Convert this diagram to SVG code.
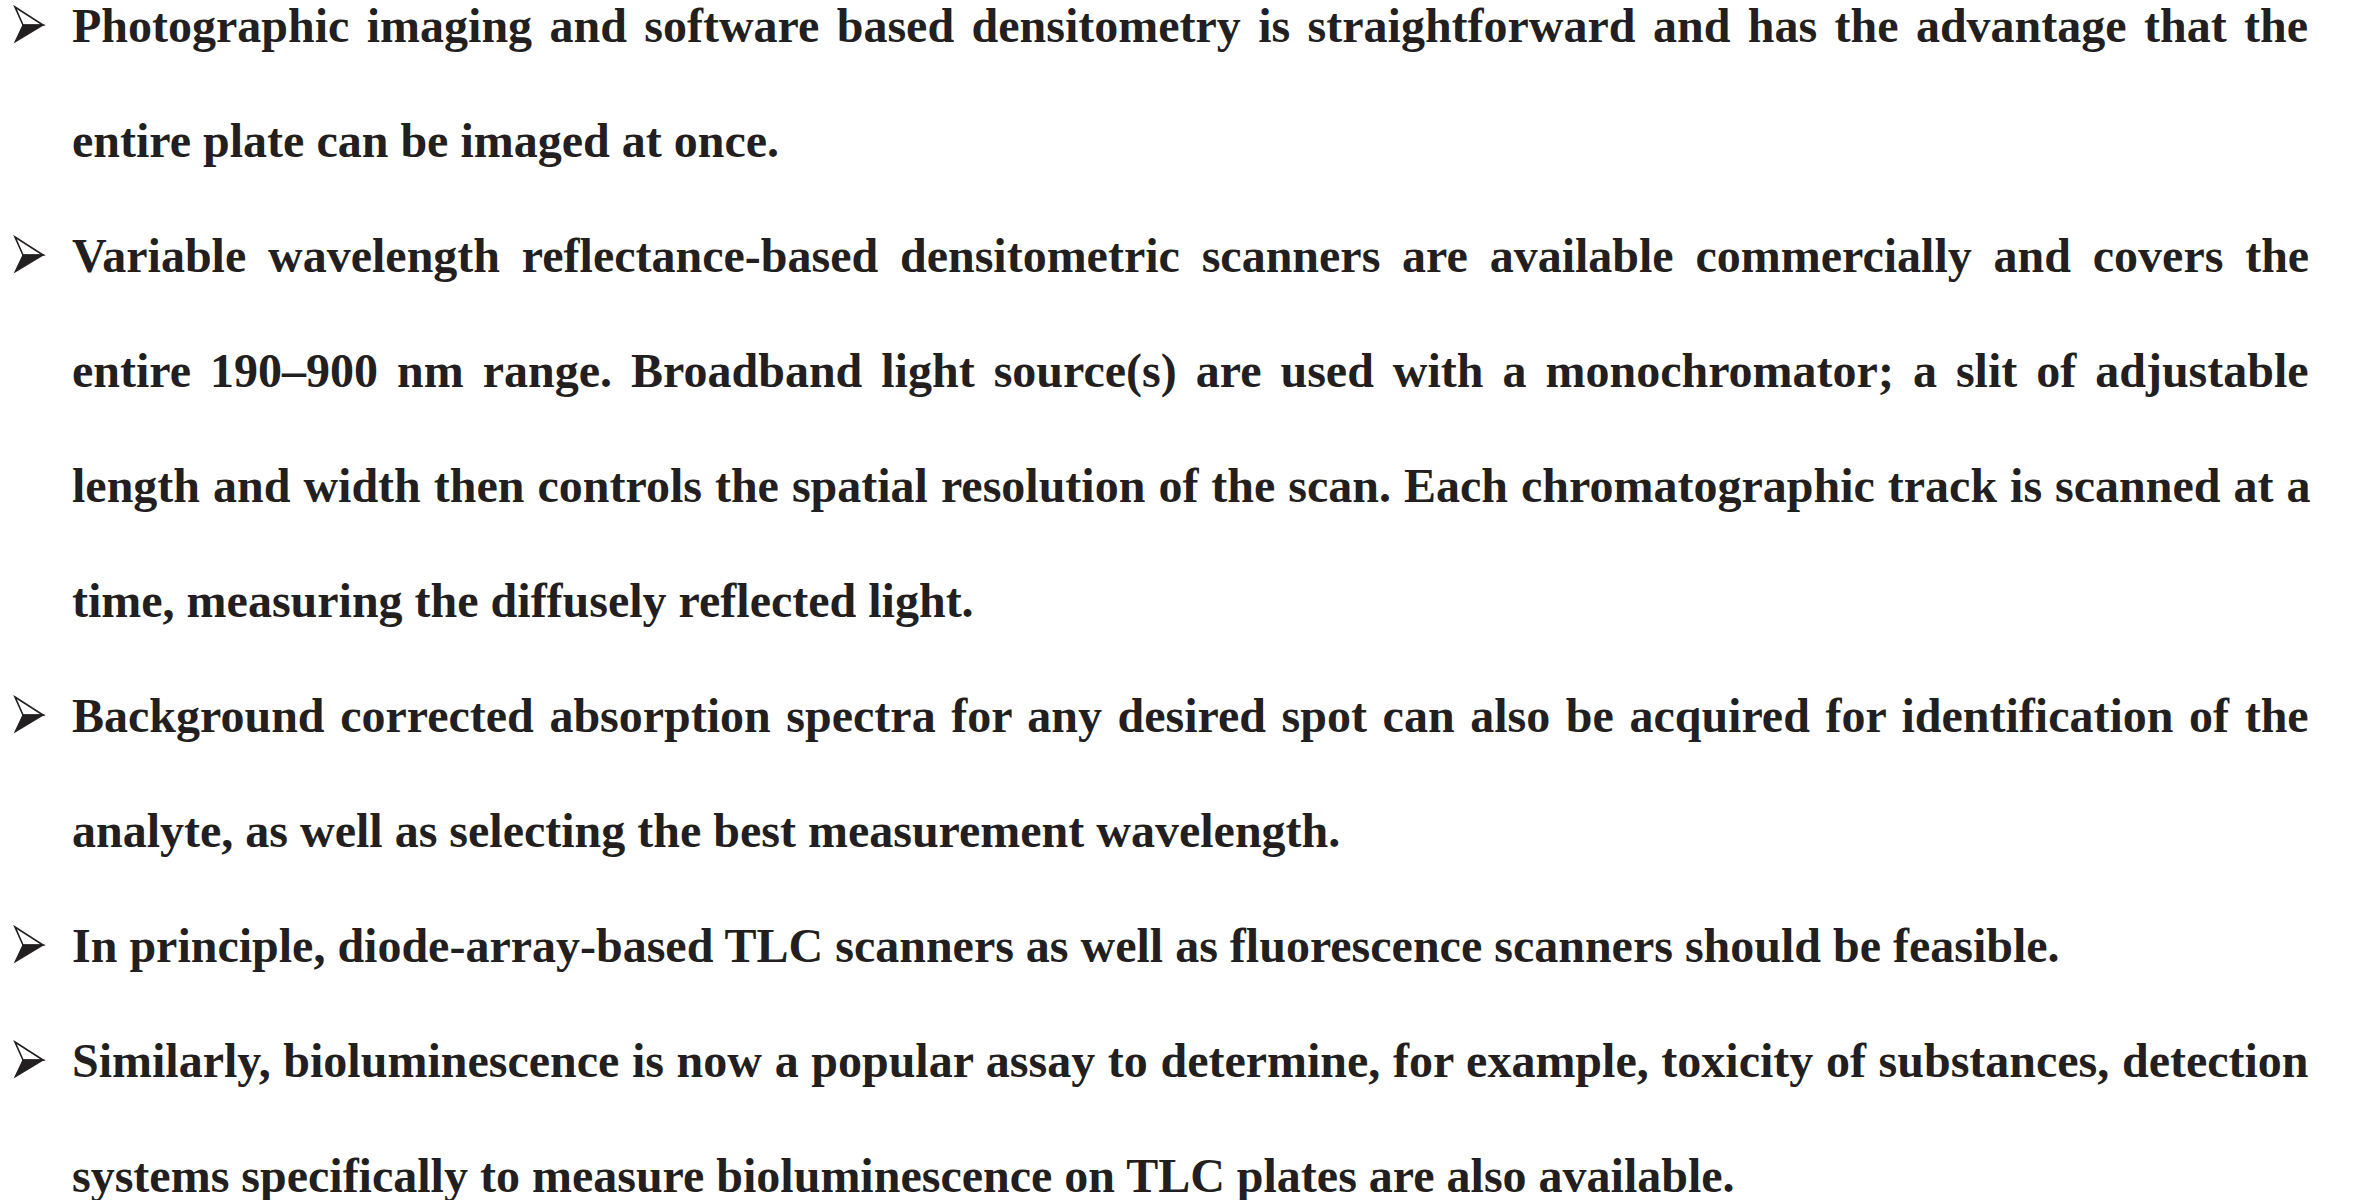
<svg xmlns="http://www.w3.org/2000/svg" width="2361" height="1200" viewBox="0 0 2361 1200">
<style>
.t{font-family:"Liberation Serif","Times New Roman",serif;font-weight:bold;font-size:48px;fill:#231f20}
</style>
<defs>
<g id="arrow">
<path d="M0,0 L28,18 L8,18 Z" fill="#ffffff" stroke="#231f20" stroke-width="1.6" stroke-linejoin="miter"/>
<path d="M8,18 L28,18 L0,35 Z" fill="#231f20" stroke="#231f20" stroke-width="1.2" stroke-linejoin="miter"/>
</g>
</defs>
<rect width="2361" height="1200" fill="#ffffff"/>
<g id="bullets">
<use href="#arrow" x="15" y="7"/>
<use href="#arrow" x="15" y="237"/>
<use href="#arrow" x="15" y="697"/>
<use href="#arrow" x="15" y="927"/>
<use href="#arrow" x="15" y="1042"/>
</g>
<g id="text">
<text class="t" x="72" y="42" word-spacing="5.4">Photographic imaging and software based densitometry is straightforward and has the advantage that the</text>
<text class="t" x="72" y="157">entire plate can be imaged at once.</text>
<text class="t" x="72" y="272" word-spacing="9.8">Variable wavelength reflectance-based densitometric scanners are available commercially and covers the</text>
<text class="t" x="72" y="387" word-spacing="7">entire 190–900 nm range. Broadband light source(s) are used with a monochromator; a slit of adjustable</text>
<text class="t" x="72" y="502" word-spacing="1">length and width then controls the spatial resolution of the scan. Each chromatographic track is scanned at a</text>
<text class="t" x="72" y="617">time, measuring the diffusely reflected light.</text>
<text class="t" x="72" y="732" word-spacing="3.6">Background corrected absorption spectra for any desired spot can also be acquired for identification of the</text>
<text class="t" x="72" y="847">analyte, as well as selecting the best measurement wavelength.</text>
<text class="t" x="72" y="962">In principle, diode-array-based TLC scanners as well as fluorescence scanners should be feasible.</text>
<text class="t" x="72" y="1077" word-spacing="0.65">Similarly, bioluminescence is now a popular assay to determine, for example, toxicity of substances, detection</text>
<text class="t" x="72" y="1192">systems specifically to measure bioluminescence on TLC plates are also available.</text>
</g>
</svg>
